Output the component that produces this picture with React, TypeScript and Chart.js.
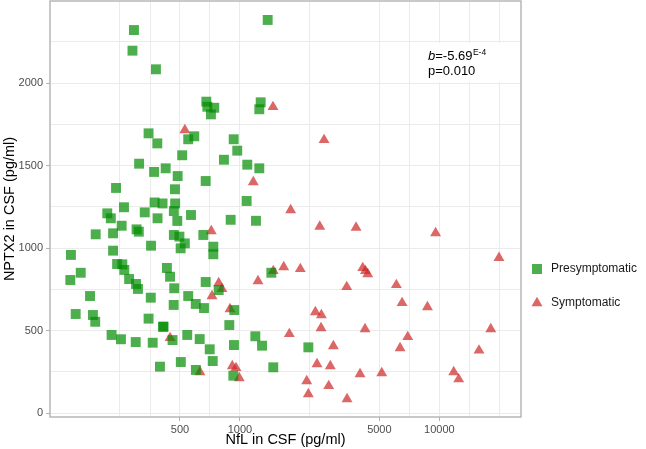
import React, { useEffect, useRef } from 'react';
import { Chart, registerables } from 'chart.js';

Chart.register(...registerables);

// ---- data ----
const seriesLabels = ['Presymptomatic', 'Symptomatic'];

const presymNfL = [
  294, 289, 379, 678, 686, 743, 715, 348, 385, 550, 590, 513, 930, 969, 831, 1088, 312, 371, 424, 487,
  673, 239, 472, 1377, 1270, 1250, 1250, 1080, 373, 409, 473, 466, 262, 333, 216, 225, 386, 485, 568, 898,
  1203, 255, 303, 311, 189, 231, 466, 497, 529, 655, 735, 735, 231, 358, 504, 142, 141, 159, 177, 150,
  183, 188, 242, 257, 263, 278, 301, 308, 357, 348, 430, 446, 468, 465, 550, 600, 660, 673, 782, 936,
  884, 411, 414, 459, 227, 253, 300, 365, 544, 628, 705, 730, 933, 397, 505, 601, 926, 1436, 1194, 1290,
  2202, 1469,
];
const presymNPTX2 = [
  2321, 2196, 2083, 1887, 1856, 1850, 1810, 1695, 1634, 1659, 1677, 1562, 1659, 1590, 1535, 1505, 1511, 1461, 1483, 1436,
  1406, 1364, 1356, 2382, 1883, 1841, 1483, 1285, 1276, 1270, 1270, 1224, 1247, 1216, 1210, 1180, 1180, 1164, 1200, 1171,
  1165, 1135, 1113, 1099, 1083, 1089, 1079, 1069, 1028, 1079, 1008, 962, 984, 1014, 998, 958, 806, 850, 709, 600,
  594, 553, 903, 901, 867, 812, 782, 752, 699, 572, 879, 826, 756, 655, 709, 661, 636, 794, 745, 624,
  533, 523, 523, 442, 473, 447, 430, 426, 473, 448, 386, 315, 412, 281, 309, 261, 226, 850, 465, 408,
  398, 277,
];

const symNfL = [
  529, 1464, 2640, 1166, 1795, 2512, 3820, 9570, 19900, 1231, 1469, 1657, 2007, 3430, 4128, 4256, 4372, 6085, 6500, 8710,
  2388, 2559, 2550, 4237, 1768, 6940, 6350, 2940, 18100, 15800, 2434, 2838, 4000, 5140, 11800, 12500, 2161, 2786, 2202, 3443,
  718, 782, 812, 724, 891, 446, 630, 915, 955, 992,
];
const symNPTX2 = [
  1715, 1855, 1655, 1400, 1230, 1130, 1124, 1091, 940, 800, 861, 885, 873, 764, 879, 861, 842, 776, 667, 642,
  612, 594, 515, 509, 479, 461, 394, 406, 509, 379, 297, 285, 236, 242, 248, 205, 194, 164, 115, 85,
  1103, 788, 752, 709, 630, 455, 248, 285, 273, 212,
];

const xMajorTicks = [500, 1000, 5000, 10000];
const xGridValues = [250, 354, 500, 707, 1000, 2236, 5000, 7071, 10000, 14142, 20000];
const yMajorTicks = [0, 500, 1000, 1500, 2000];
const yGridValues = [0, 250, 500, 750, 1000, 1250, 1500, 1750, 2000, 2250];

const xTitle = 'NfL in CSF (pg/ml)';
const yTitle = 'NPTX2 in CSF (pg/ml)';
const annotB = 'b';
const annotBValue = '=-5.69';
const annotExp = 'E-4';
const annotP = 'p=0.010';

const GREEN = 'rgba(0,139,0,0.7)';
const RED = 'rgba(205,38,38,0.7)';
const FONT = '"Liberation Sans", Arial, sans-serif';

const toPoints = (xs: number[], ys: number[]) => xs.map((x, i) => ({ x, y: ys[i] }));

const overlayPlugin = {
  id: 'overlay',
  afterDatasetsDraw(chart: any) {
    const { ctx, chartArea } = chart;
    ctx.save();
    // annotation label
    ctx.fillStyle = '#ffffff';
    ctx.fillRect(418, 43, 88, 39);
    ctx.fillStyle = '#000000';
    ctx.textBaseline = 'alphabetic';
    ctx.textAlign = 'left';
    ctx.font = `italic 13px ${FONT}`;
    ctx.fillText(annotB, 428, 60);
    const bw = ctx.measureText(annotB).width;
    ctx.font = `13px ${FONT}`;
    ctx.fillText(annotBValue, 428 + bw, 60);
    const vw = ctx.measureText(annotBValue).width;
    ctx.font = `8.5px ${FONT}`;
    ctx.fillText(annotExp, 428 + bw + vw + 0.5, 54.5);
    ctx.font = `13px ${FONT}`;
    ctx.fillText(annotP, 428, 75);
    // panel border
    ctx.strokeStyle = '#b3b3b3';
    ctx.lineWidth = 1.4;
    ctx.strokeRect(chartArea.left, chartArea.top, chartArea.right - chartArea.left, chartArea.bottom - chartArea.top);
    ctx.restore();
  },
  afterDraw(chart: any) {
    const { ctx } = chart;
    ctx.save();
    const items = [
      { label: chart.data.datasets[0].label, color: GREEN, shape: 'rect', y: 269 },
      { label: chart.data.datasets[1].label, color: RED, shape: 'triangle', y: 303 },
    ];
    const cx = 537;
    for (const it of items) {
      ctx.fillStyle = it.color;
      ctx.beginPath();
      if (it.shape === 'rect') {
        ctx.rect(cx - 5, it.y - 5, 10, 10);
      } else {
        const r = 6.3;
        for (let k = 0; k < 3; k++) {
          const a = (k * 2 * Math.PI) / 3;
          const px = cx + Math.sin(a) * r;
          const py = it.y - Math.cos(a) * r;
          if (k === 0) ctx.moveTo(px, py);
          else ctx.lineTo(px, py);
        }
        ctx.closePath();
      }
      ctx.fill();
      ctx.fillStyle = '#1a1a1a';
      ctx.font = `12px ${FONT}`;
      ctx.textBaseline = 'middle';
      ctx.textAlign = 'left';
      ctx.fillText(it.label, 551, it.y);
    }
    ctx.restore();
  },
};

export default function App() {
  const canvasRef = useRef<HTMLCanvasElement | null>(null);

  useEffect(() => {
    const canvas = canvasRef.current;
    if (!canvas) return;
    const chart = new Chart(canvas, {
      type: 'scatter',
      data: {
        datasets: [
          {
            label: seriesLabels[0],
            data: toPoints(presymNfL, presymNPTX2),
            pointStyle: 'rect',
            pointRadius: 7,
            pointHoverRadius: 7,
            backgroundColor: GREEN,
            borderWidth: 0,
          },
          {
            label: seriesLabels[1],
            data: toPoints(symNfL, symNPTX2),
            pointStyle: 'triangle',
            pointRadius: 6.3,
            pointHoverRadius: 6.3,
            backgroundColor: RED,
            borderWidth: 0,
          },
        ],
      },
      options: {
        animation: false,
        responsive: false,
        devicePixelRatio: 1,
        layout: { autoPadding: false, padding: { left: 0, top: 1, right: 125, bottom: 0 } },
        plugins: {
          legend: { display: false },
          tooltip: { enabled: false },
        },
        scales: {
          x: {
            type: 'logarithmic',
            min: 111.5,
            max: 25660,
            afterBuildTicks: (scale: any) => {
              scale.ticks = xGridValues.map((v) => ({ value: v }));
            },
            afterFit: (scale: any) => {
              scale.height = 32;
              scale.paddingLeft = 0;
              scale.paddingRight = 0;
            },
            ticks: {
              autoSkip: false,
              maxRotation: 0,
              minRotation: 0,
              padding: 2,
              color: '#4d4d4d',
              font: { family: FONT, size: 11 },
              callback: (v: any) => (xMajorTicks.includes(Number(v)) ? String(v) : ''),
            },
            grid: {
              color: '#ebebeb',
              lineWidth: 1,
              tickLength: 4,
              tickColor: (ctx: any) =>
                ctx.tick && xMajorTicks.includes(ctx.tick.value) ? '#b3b3b3' : 'rgba(0,0,0,0)',
            },
            border: { display: false },
            title: {
              display: true,
              text: xTitle,
              color: '#000000',
              font: { family: FONT, size: 14.5 },
              padding: { top: 0, bottom: 0 },
            },
          },
          y: {
            type: 'linear',
            min: -24.2,
            max: 2497,
            afterBuildTicks: (scale: any) => {
              scale.ticks = yGridValues.map((v) => ({ value: v }));
            },
            afterFit: (scale: any) => {
              scale.width = 50;
              scale.paddingTop = 0;
              scale.paddingBottom = 0;
            },
            ticks: {
              autoSkip: false,
              padding: 3,
              color: '#4d4d4d',
              font: { family: FONT, size: 11 },
              callback: (v: any) => (yMajorTicks.includes(Number(v)) ? String(v) : ''),
            },
            grid: {
              color: '#ebebeb',
              lineWidth: 1,
              tickLength: 4,
              tickColor: (ctx: any) =>
                ctx.tick && yMajorTicks.includes(ctx.tick.value) ? '#b3b3b3' : 'rgba(0,0,0,0)',
            },
            border: { display: false },
            title: {
              display: true,
              text: yTitle,
              color: '#000000',
              font: { family: FONT, size: 14.5 },
              padding: { top: 1, bottom: 0 },
            },
          },
        },
      },
      plugins: [overlayPlugin],
    } as any);
    return () => chart.destroy();
  }, []);

  return (
    <div style={{ position: 'absolute', left: 0, top: 0, width: 646, height: 449, background: '#ffffff' }}>
      <canvas ref={canvasRef} width={646} height={449} style={{ display: 'block', width: 646, height: 449 }} />
    </div>
  );
}
